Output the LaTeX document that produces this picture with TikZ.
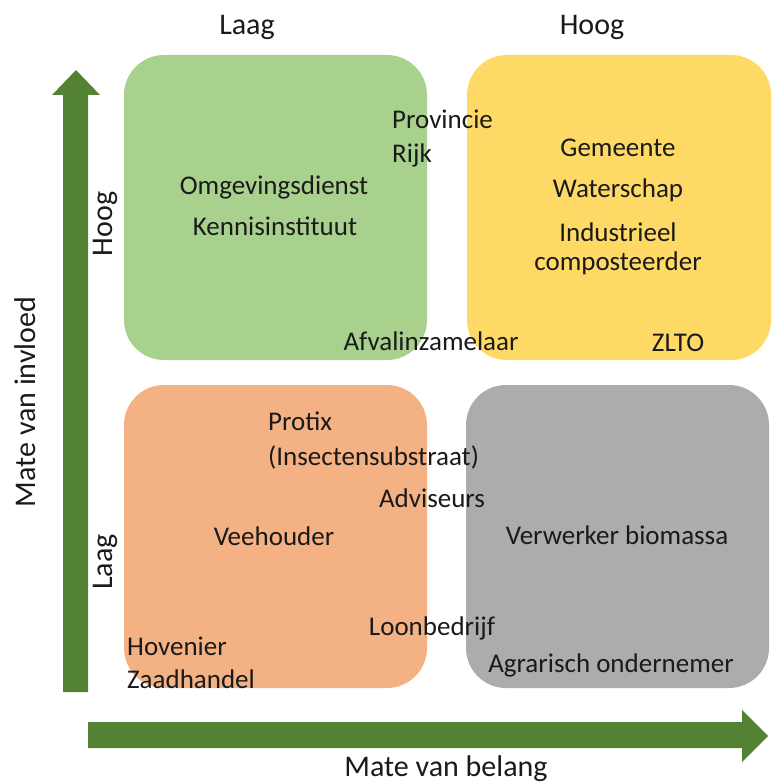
\documentclass[tikz,border=0pt]{standalone}
\usepackage{fontspec}
\setmainfont{Carlito}
\usepackage{tikz}
\definecolor{kwgreen}{HTML}{A9D18E}
\definecolor{kwyellow}{HTML}{FFD966}
\definecolor{kworange}{HTML}{F4B183}
\definecolor{kwgrey}{HTML}{AEABAB}
\definecolor{arrowgreen}{HTML}{548235}
\definecolor{txt}{HTML}{1A1A1A}
\begin{document}
\begin{tikzpicture}[
		x=1pt,y=-1pt,
		quad/.style={rounded corners=40pt},
		actor/.style={text=txt,inner sep=0pt,font=\fontsize{27}{32}\selectfont},
		axlabel/.style={text=txt,inner sep=0pt,font=\fontsize{30}{36}\selectfont}]
	\useasboundingbox (0,0) rectangle (777,783);
	%% quadrants
	\fill[kwgreen,quad] (124,55) rectangle (427,360);
	\fill[kwyellow,quad] (467,55) rectangle (771,360);
	\fill[kworange,quad] (124,385) rectangle (427,688);
	\fill[kwgrey,quad] (466,385) rectangle (769,688);
	%% block arrows
	\fill[arrowgreen] (63,692) -- (63,95) -- (52,95) -- (76,70) -- (100,95) -- (88,95) -- (88,692) -- cycle;
	\fill[arrowgreen] (88,722) -- (742,722) -- (742,710) -- (768,736) -- (742,762) -- (742,748) -- (88,748) -- cycle;
	%% axis labels
	\node (lowimp) at (247,35) [axlabel,anchor=base] {Laag};
	\node (highimp) at (592,35) [axlabel,anchor=base] {Hoog};
	\node (belang) at (446,776) [axlabel,anchor=base] {Mate van belang};
	\node (invloed) at (35,402) [axlabel,anchor=base,rotate=90] {Mate van invloed};
	\node (highinf) at (112,224) [axlabel,anchor=base,rotate=90] {Hoog};
	\node (lowinf) at (112,562) [axlabel,anchor=base,rotate=90] {Laag};
	%% green: keep satisfied
	\node (provincie) at (392,129) [actor,anchor=base west] {Provincie};
	\node (rijk) at (392,163) [actor,anchor=base west] {Rijk};
	\node (omgeving) at (274,195) [actor,anchor=base] {Omgevingsdienst};
	\node (kennis) at (275,236) [actor,anchor=base] {Kennisinstituut};
	\node (afval) at (431,350) [actor,anchor=base] {Afvalinzamelaar};
	%% yellow: key players
	\node (gemeente) at (618,157) [actor,anchor=base] {Gemeente};
	\node (waterschap) at (618,198) [actor,anchor=base] {Waterschap};
	\node (industrieel) at (618,242) [actor,anchor=base] {Industrieel};
	\node (compost) at (618,270) [actor,anchor=base] {composteerder};
	\node (zlto) at (678,351) [actor,anchor=base] {ZLTO};
	%% orange: monitor
	\node (protix) at (268,430) [actor,anchor=base west] {Protix};
	\node (substraat) at (268,465) [actor,anchor=base west] {(Insectensubstraat)};
	\node (advies) at (432,507) [actor,anchor=base] {Adviseurs};
	\node (vee) at (274,545) [actor,anchor=base] {Veehouder};
	\node (loon) at (432,635) [actor,anchor=base] {Loonbedrijf};
	\node (hovenier) at (127,655) [actor,anchor=base west] {Hovenier};
	\node (zaad) at (127,688) [actor,anchor=base west] {Zaadhandel};
	%% grey: keep informed
	\node (biomassa) at (617,544) [actor,anchor=base] {Verwerker biomassa};
	\node (agrarisch) at (611,672) [actor,anchor=base] {Agrarisch ondernemer};
\end{tikzpicture}
\end{document}
